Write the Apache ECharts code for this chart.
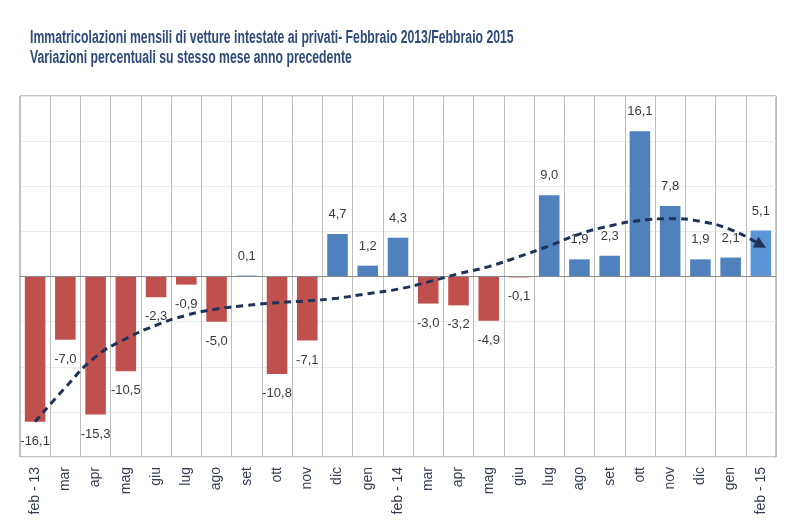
<!DOCTYPE html>
<html>
<head>
<meta charset="utf-8">
<script src="https://cdn.jsdelivr.net/npm/echarts@6/dist/echarts.min.js"></script>
<style>
  html, body { margin: 0; padding: 0; background: #fff; }
  #chart { width: 798px; height: 531px; }
</style>
</head>
<body>
<div id="chart"></div>
<script>
const months = ['feb - 13', 'mar', 'apr', 'mag', 'giu', 'lug', 'ago', 'set', 'ott', 'nov', 'dic', 'gen',
  'feb - 14', 'mar', 'apr', 'mag', 'giu', 'lug', 'ago', 'set', 'ott', 'nov', 'dic', 'gen', 'feb - 15']

// variazione % sullo stesso mese dell'anno precedente
const variazioni = [-16.1, -7.0, -15.3, -10.5, -2.3, -0.9, -5.0, 0.1, -10.8, -7.1, 4.7, 1.2,
  4.3, -3.0, -3.2, -4.9, -0.1, 9.0, 1.9, 2.3, 16.1, 7.8, 1.9, 2.1, 5.1]

// linea di tendenza
const tendenza = [-16.1, -12.3, -8.9, -6.9, -5.4, -4.3, -3.6, -3.2, -2.9, -2.7, -2.4, -1.9,
  -1.4, -0.6, 0.3, 1.1, 2.2, 3.4, 4.7, 5.6, 6.2, 6.4, 6.1, 5.2, 3.5]

const titolo = 'Immatricolazioni mensili di vetture intestate ai privati- Febbraio 2013/Febbraio 2015\nVariazioni percentuali su stesso mese anno precedente'

const font = "'Liberation Sans Narrow', 'Liberation Sans', sans-serif"
const fmt = (v) => v.toFixed(1).replace('.', ',')

const barData = variazioni.map((v, i) => ({
  value: v,
  itemStyle: { color: v < 0 ? '#c0504d' : (i === variazioni.length - 1 ? '#5b95d6' : '#4f81bd') },
  label: { position: v < 0 ? 'bottom' : 'top' },
}))

const lineData = tendenza.map((v, i) =>
  i === tendenza.length - 1
    ? { value: v, symbol: 'triangle', symbolSize: 12, symbolRotate: -118 }
    : { value: v, symbol: 'none' }
)

const myChart = echarts.init(document.getElementById('chart'))
const option = {
  animation: false,
  backgroundColor: '#fff',
  // titolo "stretto" come nell'originale
  graphic: [
    {
      type: 'text',
      x: 30,
      y: 28,
      scaleX: 0.68,
      style: {
        text: titolo,
        font: "bold 18px 'Liberation Sans', sans-serif",
        fill: '#2d4a7a',
        lineHeight: 20,
      },
    },
  ],
  grid: { left: 20, right: 22, top: 96, bottom: 74, show: true, borderColor: '#8a8a8a', borderWidth: 1 },
  xAxis: {
    type: 'category',
    data: months,
    axisLine: { show: false },
    axisTick: { show: false },
    splitLine: { show: true, lineStyle: { color: '#bdbdbd' } },
    axisLabel: { rotate: 90, margin: 10, fontFamily: font, fontSize: 14, color: '#343d52' },
  },
  yAxis: {
    type: 'value',
    min: -20,
    max: 20,
    interval: 5,
    axisLabel: { show: false },
    axisLine: { show: false },
    axisTick: { show: false },
    splitLine: { lineStyle: { color: '#ececec' } },
  },
  series: [
    {
      type: 'bar',
      data: barData,
      barCategoryGap: '32%',
      label: {
        show: true,
        distance: 13,
        fontFamily: font,
        fontSize: 13,
        color: '#3a3a3a',
        formatter: (p) => fmt(p.value),
      },
      markLine: {
        silent: true,
        symbol: 'none',
        label: { show: false },
        lineStyle: { color: '#8a8a8a', type: 'solid', width: 1 },
        data: [{ yAxis: 0 }],
      },
    },
    {
      type: 'line',
      data: lineData,
      smooth: true,
      z: 5,
      lineStyle: { color: '#1f3358', width: 3, type: [7, 5] },
      itemStyle: { color: '#1f3358' },
    },
  ],
}
option && myChart.setOption(option)
</script>
</body>
</html>
